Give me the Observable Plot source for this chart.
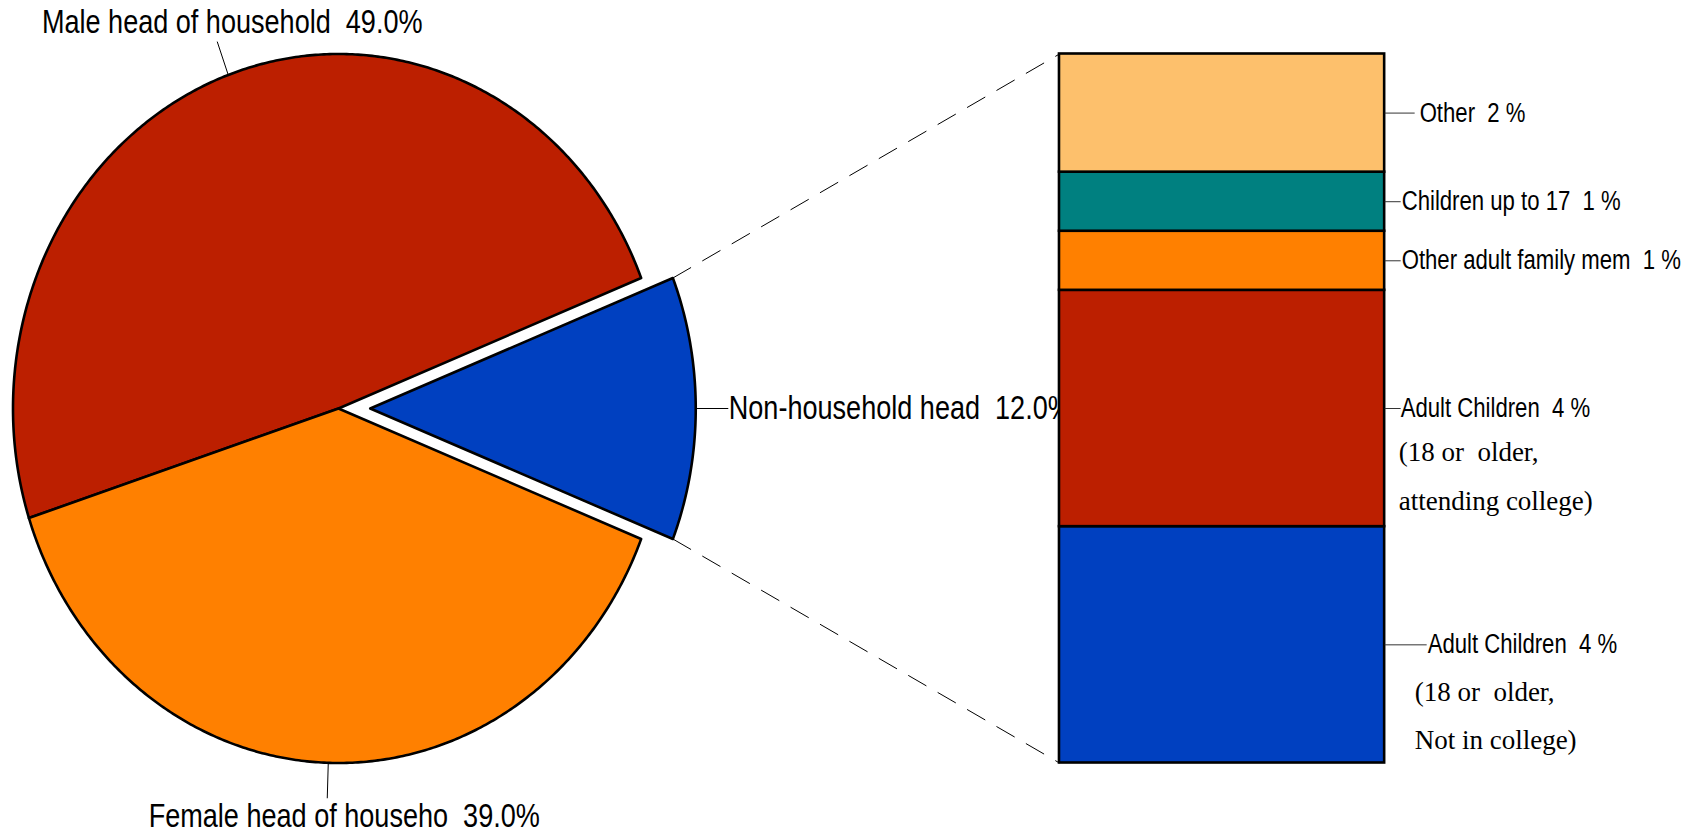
<!DOCTYPE html>
<html><head><meta charset="utf-8">
<script src="https://cdn.jsdelivr.net/npm/d3@7"></script>
<script src="https://cdn.jsdelivr.net/npm/@observablehq/plot@0.6"></script>
<style>
html,body{margin:0;padding:0;background:#fff;}
#chart svg text{white-space:pre;}
</style></head><body><div id="chart"></div>
<script>
// ---------- data ----------
const pieLabels = ["Non-household head", "Male head of household", "Female head of househo"];
const pieValues = [12.0, 49.0, 39.0];
const pieColors = ["#0040C0", "#BC1F00", "#FF8000"];

const barLabels = ["Adult Children", "Adult Children", "Other adult family mem", "Children up to 17", "Other"];
const barValues = [4, 4, 1, 1, 2];
const barColors = ["#0040C0", "#BC1F00", "#FF8000", "#008080", "#FDC06C"];
const barNotes = [["(18 or  older,", "Not in college)"], ["(18 or  older,", "attending college)"], [], [], []];

// ---------- layout (pixels / radius units) ----------
const W = 1689, H = 832;
const pieCx = 338, pieCy = 408, pieRx = 325.5, pieRy = 354.5;
const explode = 0.0975;             // offset of the exploded slice, in radius units
const barX0 = 2.215, barX1 = 3.214; // bar edges, in radius units
const pieLabelPos = [
  {anchor: "start", dx: 0.5, dy: 0},
  {anchor: "middle", dx: 15, dy: -19},
  {anchor: "middle", dx: 17, dy: 18}
];
const barLeaderPx = [42, 16, 16, 16, 30];
const barTextPx = [43, 16, 17, 17, 35];
const noteDx = [30, 14, 0, 0, 0];
const noteDy = [[48, 96], [44, 93], [], [], []];
const sans = '"Liberation Sans",Arimo,Arial,sans-serif';
const serif = '"Liberation Serif","Times New Roman",serif';
const narrow = 0.82; // horizontal condensing of the sans labels

// ---------- pie geometry ----------
const total = d3.sum(pieValues);
let a = -pieValues[0] / total * Math.PI;
const slices = pieValues.map((v, i) => {
  const start = a, end = a + v / total * 2 * Math.PI; a = end;
  const mid = (start + end) / 2;
  const off = i === 0 ? explode : 0;
  const ox = off * Math.cos(mid), oy = off * Math.sin(mid);
  const pts = [{x: ox, y: oy}];
  const n = Math.max(8, Math.ceil((end - start) / (Math.PI / 360)));
  for (let k = 0; k <= n; k++) {
    const t = start + (end - start) * k / n;
    pts.push({x: ox + Math.cos(t), y: oy + Math.sin(t)});
  }
  return {i, label: pieLabels[i], value: v, color: pieColors[i], start, end, mid, ox, oy, pts};
});

// ---------- bar geometry ----------
let c = 0;
const barRows = barValues.map((v, i) => {
  const r = {i, label: barLabels[i], value: v, c0: c, c1: c + v, color: barColors[i]};
  c += v; return r;
});
const barTotal = c;
const toY = v => -1 + 2 * v / barTotal;
const midY = d => toY((d.c0 + d.c1) / 2);
const px = p => p / pieRx;

const blue = slices[0];
const connectors = [
  {x1: blue.ox + Math.cos(blue.end), y1: blue.oy + Math.sin(blue.end), x2: barX0, y2: toY(barTotal)},
  {x1: blue.ox + Math.cos(blue.start), y1: blue.oy + Math.sin(blue.start), x2: barX0, y2: toY(0)}
];

const noteRows = [];
barRows.forEach(d => barNotes[d.i].forEach((t, j) => noteRows.push({d, t, dy: noteDy[d.i][j]})));

const marks = [
  Plot.link(connectors, {x1: "x1", y1: "y1", x2: "x2", y2: "y2", stroke: "black", strokeWidth: 1, strokeDasharray: "21,13"}),
  ...slices.map(s => Plot.line(s.pts, {x: "x", y: "y", fill: s.color, stroke: "black", strokeWidth: 2.6, curve: "linear-closed", strokeLinejoin: "round"})),
  Plot.link(slices, {
    x1: s => s.ox + Math.cos(s.mid), y1: s => s.oy + Math.sin(s.mid),
    x2: s => s.ox + 1.1 * Math.cos(s.mid), y2: s => s.oy + 1.1 * Math.sin(s.mid),
    stroke: "black", strokeWidth: 1
  }),
  ...slices.map(s => Plot.text([s], {
    x: s => s.ox + 1.1 * Math.cos(s.mid), y: s => s.oy + 1.1 * Math.sin(s.mid),
    text: s => `${s.label}  ${s.value.toFixed(1)}%`,
    textAnchor: pieLabelPos[s.i].anchor, dx: pieLabelPos[s.i].dx, dy: pieLabelPos[s.i].dy,
    fontSize: 33, fontFamily: sans, fill: "black"
  })),
  Plot.rect(barRows, {x1: barX0, x2: barX1, y1: d => toY(d.c0), y2: d => toY(d.c1), fill: "color", stroke: "black", strokeWidth: 2.6}),
  Plot.link(barRows, {x1: barX1, x2: d => barX1 + px(barLeaderPx[d.i]), y1: midY, y2: midY, stroke: "#333", strokeWidth: 1}),
  Plot.text(barRows, {x: d => barX1 + px(barTextPx[d.i]), y: midY, text: d => `${d.label}  ${d.value} %`, textAnchor: "start", fontSize: 27, fontFamily: sans, fill: "black"}),
  ...noteRows.map(r => Plot.text([r], {x: barX1 + px(noteDx[r.d.i]), y: midY(r.d), text: "t", dy: r.dy, textAnchor: "start", fontSize: 27, fontFamily: serif, fill: "black"}))
];

const chart = Plot.plot({
  width: W, height: H, margin: 0,
  x: {domain: [-1, 1], range: [pieCx - pieRx, pieCx + pieRx], axis: null},
  y: {domain: [-1, 1], range: [pieCy + pieRy, pieCy - pieRy], axis: null},
  color: {type: "identity"},
  style: {background: "white", overflow: "visible"},
  marks
});
document.getElementById("chart").appendChild(chart);

// condense the sans-serif labels (narrow typeface look)
chart.querySelectorAll("text").forEach(t => {
  const ff = getComputedStyle(t).fontFamily;
  if (ff.includes("Liberation Sans")) {
    const len = t.getComputedTextLength();
    t.setAttribute("textLength", (len * narrow).toFixed(1));
    t.setAttribute("lengthAdjust", "spacingAndGlyphs");
  }
});
</script>
</body></html>
